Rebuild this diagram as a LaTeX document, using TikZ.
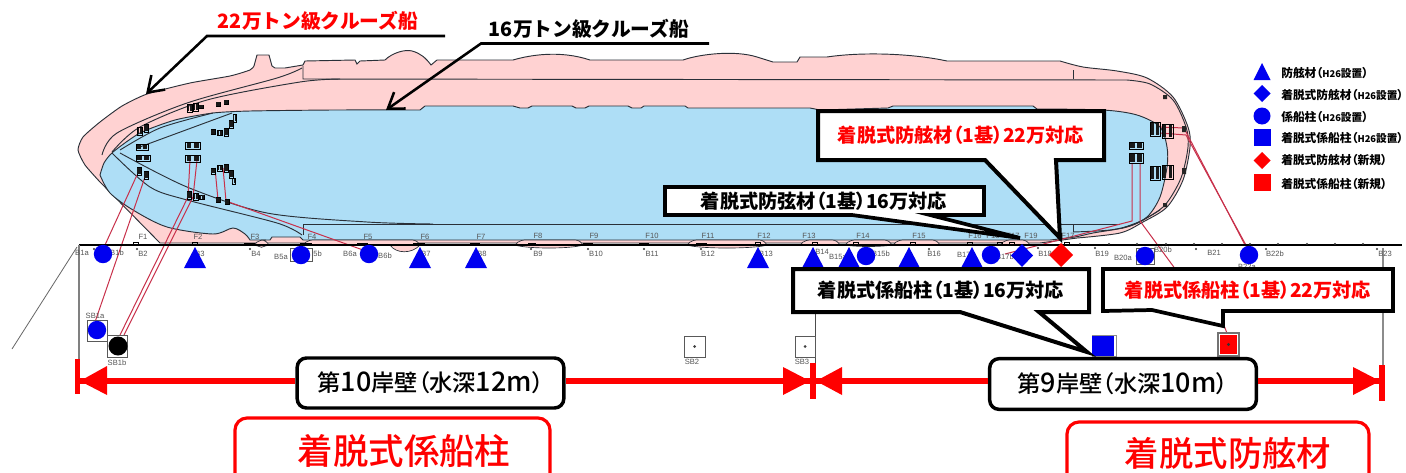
\documentclass[tikz,border=0pt]{standalone}
\usepackage{fontspec}
\usetikzlibrary{arrows.meta,calc}
\setmainfont{Liberation Sans}
\newfontfamily\cjk{Noto Sans CJK JP}
\newfontfamily\cjkp[RawFeature=+palt]{Noto Sans CJK JP}
\newfontfamily\cjkm[RawFeature=+palt]{Noto Sans CJK JP Medium}
\definecolor{hullpink}{HTML}{FFD2D2}
\definecolor{hullblue}{HTML}{AEDEF6}
\definecolor{hullline}{HTML}{2A3038}
\definecolor{moor}{HTML}{C8304A}
\definecolor{mblue}{HTML}{0000F0}
\definecolor{mred}{HTML}{FF0000}
\definecolor{tinygray}{HTML}{555555}
\newcommand{\fs}[1]{\fontsize{#1}{#1}\selectfont}
\newcommand{\hset}{{\fs{7}\cjkm H26}{\fs{8}設置}}
\newcommand{\gearbox}[4]{%
  \draw[black,line width=.5pt] (#1,#2) rectangle ++(#3,#4);
  \fill[black!90] (#1+.1*#3,#2+.1*#4) rectangle ++(.3*#3,.8*#4);
  \fill[black!90] (#1+.6*#3,#2+.1*#4) rectangle ++(.3*#3,.8*#4);
}
\tikzset{
  hl/.style={hullline,line width=.7pt},
  moorline/.style={moor,line width=.75pt},
  callout/.style={draw=black,fill=white,line width=3pt,line join=miter},
  tagtext/.style={font=\cjkp\bfseries\fs{14.4},inner sep=0pt},
  walltext/.style={draw=black,fill=white,line width=2.6pt,rounded corners=7pt,font=\cjkm\fs{17.4},inner sep=0pt},
  redrule/.style={mred,line width=4.6pt},
  redhead/.style={fill=mred,draw=none},
  shiplabel/.style={font=\cjk\bfseries\fs{14.8},inner sep=0pt},
  leaderline/.style={black,line width=1.9pt,line join=miter},
  legendtext/.style={font=\cjkp\bfseries\fs{8.8},anchor=west,inner sep=0pt},
  tiny/.style={font=\fs{5.7},text=tinygray,inner sep=0pt},
  quaybox/.style={draw=black!65,line width=.7pt,fill=white},
  bigtext/.style={font=\cjkm\fs{26.6},text=mred,inner sep=0pt},
}
\begin{document}
\begin{tikzpicture}[x=0.75pt,y=-0.75pt]
\useasboundingbox (0,0) rectangle (1406,472);
\clip (0,0) rectangle (1406,472);
\fill[white] (0,0) rectangle (1406,472);

% ---- pink hull (22万)
\draw[hl,fill=hullpink] plot[smooth,tension=.35] coordinates {
 (100,182)(85,165)(78,150)(83,137)(100,122)(122,106)(147,94)(190,83)(230,76)(250,70)(254,66)}
 -- (257,55) -- (269,55) -- (272,66) -- (275,68)
 -- (285,68) -- (303,65) -- (305,61) -- (355,60) -- (357,64) -- (360,61) -- (385,60)
 .. controls (392,53) and (405,49) .. (412,51) .. controls (420,53) and (426,58) .. (431,65)
 -- (437,60) -- (513,60)
 .. controls (530,55) and (560,50) .. (590,60) -- (683,60)
 .. controls (700,54) and (735,50) .. (757,57) -- (773,62) -- (797,62) -- (800,57) -- (827,57)
 .. controls (860,52) and (910,53) .. (947,61) -- (1060,61)
 -- plot[smooth,tension=.5] coordinates {(1060,61)(1083,67)(1117,71)(1147,78)(1173,97)(1188,127)(1190,147)(1183,180)(1167,207)(1143,222)(1120,233)(1077,238)}
 -- (1040,243) -- (160,243) -- cycle;

% ---- blue hull (16万)
\draw[hl,fill=hullblue] plot[smooth,tension=.4] coordinates {
 (100,175)(104,163)(113,152)(140,133)(175,120)(213,113)(250,111)(333,110)(420,110)}
 -- (425,106) -- (513,106) -- (520,108) -- (528,108) -- (532,106) -- (572,106) -- (576,108)
 -- (585,108) -- (589,106) -- (628,106) -- (632,108) -- (641,108) -- (644,106) -- (685,106)
 -- (688,108) -- (810,108) -- (820,110) -- (888,108) -- (893,106) -- (1033,106) -- (1037,109)
 -- plot[smooth,tension=.5] coordinates {(1037,109)(1103,110)(1137,115)(1160,127)(1167,147)(1167,167)(1160,197)(1147,217)(1127,227)(1093,233)(1075,237)(1050,240)}
 -- (303,240) -- (300,237) -- (272,237) -- (270,240) -- (250,240)
 -- plot[smooth,tension=.5] coordinates {(250,240)(245,234)(233,228)(213,234)(167,227)(133,210)(110,193)(100,175)};

% ---- berth lines on the hull
\draw[hl] (303,66) -- (303,79) -- (1127,80);
\draw[hl] (303,224) -- (303,235);
\draw[hl] (303,224) -- (1120,224);
\draw[hl] plot[smooth,tension=.5] coordinates {(102,155)(117,133)(187,103)(277,78)(302,68)};
\draw[hl] plot[smooth,tension=.5] coordinates {(112,152)(140,127)(207,100)(300,82)(340,79)};
\draw[hl] plot[smooth,tension=.5] coordinates {(120,150)(160,128)(213,113)};
\draw[hl] (137,148) -- (232,113);
\draw[hl] plot[smooth,tension=.5] coordinates {(112,153)(150,187)(187,200)(277,223)(302,235)};
\draw[hl] plot[smooth,tension=.5] coordinates {(120,153)(187,187)(267,213)(367,222)(433,224)};
\draw[hl] plot[smooth,tension=.5] coordinates {(1127,80)(1150,84)(1173,100)(1186,127)(1188,147)(1181,178)(1165,205)(1143,220)(1122,228)};
\draw[hl] (1073,70) -- (1073,79);
\draw[hl] (1073,224) -- (1073,232);
\draw[hl] plot[smooth,tension=.5] coordinates {(1073,232)(1110,230)(1135,224)(1160,210)};

% ---- pink strips along the quay
\foreach \a/\b/\d in {254/269/248,303/420/245,515/583/249,687/767/249,800/840/245,845/892/247,893/940/245,1000/1030/245}{
  \draw[hl,fill=hullpink,line width=.5pt] (\a,245) .. controls (\a+4,240) and (\a+8,240) .. (\a+12,240) -- (\b-8,240) .. controls (\b-4,240) and (\b-2,242) .. (\b,245)
    .. controls (\b-12,\d) and (\a+12,\d) .. (\a,245);
}
\draw[hl,fill=hullpink,line width=.5pt] (390,245) .. controls (396,254) and (412,254) .. (420,245) -- cycle;

% ---- mooring lines
\draw[moorline] (137,175) -- (105,245);
\draw[moorline] (145,177) -- (95,322);
\draw[moorline] (190,160) -- (188,197) -- (120,335);
\draw[moorline] (197,160) -- (193,197) -- (124,335);
\draw[moorline] (215,168) -- (218,200);
\draw[moorline] (223,168) -- (226,201) -- (363,250);
\draw[moorline] (1132,163) -- (1132,221) -- (1005,254);
\draw[moorline] (1140,163) -- (1140,221) -- (1176,270);
\draw[moorline] (1160,127) -- (1184,128) -- (1245,245);
\draw[moorline] (1160,133) -- (1186,135) -- (1247,247);
\draw[moorline] (1222,320) -- (1228,336);

% ---- fittings on the hull
\gearbox{187}{104}{5}{8}\gearbox{193}{103}{5}{8}\gearbox{199}{105}{4}{3}
\gearbox{216}{102}{4}{4}\gearbox{224}{100}{4}{4}
\gearbox{137}{127}{5}{8}\gearbox{144}{124}{4}{8}
\gearbox{136}{144}{12}{6}\gearbox{136}{155}{14}{6}
\gearbox{137}{167}{4}{8}\gearbox{144}{171}{4}{8}
\gearbox{185}{142}{15}{7}\gearbox{185}{155}{15}{7}
\gearbox{187}{191}{4}{8}\gearbox{193}{193}{5}{7}\gearbox{199}{195}{5}{4}
\gearbox{216}{197}{4}{5}\gearbox{225}{199}{4}{5}
\gearbox{211}{129}{4}{5}\gearbox{217}{130}{5}{5}\gearbox{224}{128}{4}{8}\gearbox{229}{120}{4}{8}\gearbox{233}{114}{3}{8}
\gearbox{211}{168}{4}{6}\gearbox{217}{165}{5}{6}\gearbox{224}{164}{4}{8}\gearbox{229}{170}{4}{8}\gearbox{232}{178}{3}{6}
\gearbox{1150}{122}{10}{14}\gearbox{1162}{124}{11}{14}
\gearbox{1150}{166}{10}{14}\gearbox{1162}{165}{11}{14}
\gearbox{1129}{142}{14}{7}\gearbox{1129}{153}{14}{10}
\fill[black!85] (1163,95) rectangle ++(4,4) (1163,203) rectangle ++(4,4) (1182,126) rectangle ++(4,6) (1182,168) rectangle ++(4,6);

% ---- quay and frame lines
\draw[black,line width=.8pt] (79,245) -- (1402,245);
\draw[black!50,line width=1pt] (79,245) -- (79,362);
\draw[black!60,line width=.6pt] (77,247) -- (12,349);
\draw[black!45,line width=1.2pt] (1383,248) -- (1383,366);
\draw[black!70,line width=.7pt] (815,262) -- (815,365);

% ---- quay fittings
\foreach \a/\b in {244/255,300/312,357/368,413/425,470/480,528/536,583/593,639/649,696/707}
  \fill[black] (\a,242.5) rectangle (\b,245.5);
\foreach \a in {133,192,755,812,853,910,967,997,1009,1064}
  \draw[black,line width=.6pt] (\a,242) rectangle ++(5,3);
\foreach \a in {1080,1109,1137,1166,1194,1222,1250,1278,1307,1335,1363}
  \fill[black!80] (\a,244) circle (1.2);
\foreach \a/\b in {94/249,137/249,250/249,531/249,588/249,644/249,701/249,929/249,1038/248,1095/248,1196/249,1266/249,1377/249}
  \fill[black!80] (\a,\b) circle (1.1);

% ---- tiny labels
\foreach \t/\a/\b in {F1/143/237,F2/198/237,F3/255/237,F4/312/237,F5/368/237,F6/425/237,F7/481/237,F8/538/236,F9/594/236,F10/652/236,F11/708/236,F12/764/236,F13/809/236,F14/863/236,F15/919/236,F16/975/236,F18/993/236,F17/1013/236,F19/1031/236,F17/1068/236,
 B1a/82/253,B1b/117/253,B2/143/254,B3/200/254,B4/256/254,B5a/281/257,B5b/315/254,B6a/350/254,B6b/385/256,B7/426/254,B8/482/254,B9/538/254,B10/596/254,B11/652/254,B12/708/254,B13/766/254,B14/822/252,B15a/838/257,B15b/881/254,B16/934/254,B17a/966/255,B17b/1005/257,B18/1045/254,B19/1102/254,B20a/1123/258,B20b/1163/250,B21/1214/253,B22a/1247/267,B22b/1275/254,B23/1385/254,
 SB1a/95/316,SB1b/117/363,SB2/692/362,SB3/802/362}
  \node[tiny] at (\a,\b) {\t};

% ---- boxes and posts
\draw[quaybox] (290,248) rectangle (312,261);
\draw[quaybox] (87,320) rectangle (107,341);
\draw[quaybox] (107,335) rectangle (127,357);
\draw[quaybox] (684,336) rectangle (705,357);
\fill[black!75] (694.5,346.5) circle (1.5);
\draw[quaybox] (795,336) rectangle (815,357);
\fill[black!75] (805,346.5) circle (1.5);
\draw[quaybox] (1136,248) rectangle (1154,264);

% ---- markers
\foreach \a in {195,420,476,758,813,849,909,972}
  \fill[mblue] (\a,247) -- (\a+11,268) -- (\a-11,268) -- cycle;
\foreach \a/\b in {103/254,301/255,369/254,866/256,991/255,1249/255,1145/256,97/330}
  \fill[mblue] (\a,\b) circle (9.2);
\fill[black] (118,346) circle (9.5);
\fill[mblue] (1022,244) -- (1033,255.5) -- (1022,267) -- (1011,255.5) -- cycle;
\fill[mred] (1061,243) -- (1073,255) -- (1061,267) -- (1049,255) -- cycle;
\draw[quaybox,draw=black!45] (1092,335.5) rectangle (1116,356.5);
\fill[mblue] (1092,336) rectangle (1114,356);
\draw[quaybox,draw=black!55,line width=1pt] (1218,333) rectangle (1239,356);
\fill[mred] (1220,335) rectangle (1237,354);
\fill[black!80] (1228.5,344.5) circle (1.6);

% ---- ship labels and leaders
\node[shiplabel,text=mred] (ship22) at (318,21) {22万トン級クルーズ船};
\node[shiplabel] (ship16) at (589,29) {16万トン級クルーズ船};
\coordinate (ship22a) at (445,36);
\coordinate (ship22b) at (207,36);
\coordinate (ship22c) at (146,94);
\coordinate (ship16a) at (709,43.5);
\coordinate (ship16b) at (481,43.5);
\coordinate (ship16c) at (386,110);
\draw[leaderline,-{Straight Barb[length=11pt,width=15pt,line width=1.9pt]}] (ship22a) -- (ship22b) -- (ship22c);
\draw[leaderline,-{Straight Barb[length=11pt,width=15pt,line width=1.9pt]}] (ship16a) -- (ship16b) -- (ship16c);

% ---- callouts
\draw[callout] (818,111) -- (1104,111) -- (1104,160) -- (1056,160) -- (1060,238) -- (985,160) -- (818,160) -- cycle;
\node[tagtext,text=mred] (tagA) at (961,135) {着脱式防舷材（1基）22万対応};

\draw[callout,line width=2.8pt] (665,187) -- (984,187) -- (984,215) -- (930,215) -- (1020,238) -- (852,215) -- (665,215) -- cycle;
\node[tagtext] (tagB) at (824,201) {着脱式防弦材（1基）16万対応};

\draw[callout] (793,269) -- (1089,269) -- (1089,312) -- (1039,312) -- (1087,352) -- (960,312) -- (793,312) -- cycle;
\node[tagtext] (tagC) at (941,290) {着脱式係船柱（1基）16万対応};

\draw[callout,line width=2.8pt] (1103,269) -- (1393,269) -- (1393,311) -- (1223,311) -- (1223,326) -- (1152,310) -- (1103,311) -- cycle;
\node[tagtext,text=mred] (tagD) at (1248,290) {着脱式係船柱（1基）22万対応};

% ---- wall dimension lines
\node[walltext,minimum width=200pt,minimum height=37.5pt] (w10) at (430.5,383) {第{\fs{20.2}10}岸壁（水深{\fs{20.2}12m}）};
\node[walltext,minimum width=200pt,minimum height=38pt] (w9) at (1123,384) {第{\fs{20.2}9}岸壁（水深{\fs{20.2}10m}）};
\coordinate (e10l) at (80,381);
\coordinate (e10r) at (810,381);
\coordinate (e9l) at (816,381);
\coordinate (e9r) at (1380,381);
\draw[redrule] (w10.west |- e10l) -- (e10l);
\draw[redrule] (w10.east |- e10r) -- (e10r);
\draw[redrule] (w9.west |- e9l) -- (e9l);
\draw[redrule] (w9.east |- e9r) -- (e9r);
\fill[redhead] (e10l) -- (107,366) -- (107,395) -- cycle;
\fill[redhead] (e10r) -- (783,367) -- (783,395) -- cycle;
\fill[redhead] (e9l) -- (842,367) -- (842,395) -- cycle;
\fill[redhead] (e9r) -- (1353,367) -- (1353,395) -- cycle;
\fill[mred] (75,359) rectangle (80,394);
\fill[mred] (810,363) rectangle (816,399);
\fill[mred] (1379,365) rectangle (1385,401);

% ---- bottom boxes
\draw[mred,line width=2.4pt,rounded corners=9pt] (235,418) -- (550,418) -- (550,490) -- (235,490) -- cycle;
\node[bigtext] (bigA) at (404,451) {着脱式係船柱};
\draw[mred,line width=2.4pt,rounded corners=9pt] (1067,422) -- (1369,422) -- (1369,490) -- (1067,490) -- cycle;
\node[bigtext,font=\cjkm\fs{25.8}] (bigB) at (1228,453) {着脱式防舷材};

% ---- legend
\fill[mblue] (1262,63) -- (1270.5,80) -- (1253.5,80) -- cycle;
\fill[mblue] (1262,85) -- (1270.5,93.5) -- (1262,102) -- (1253.5,93.5) -- cycle;
\fill[mblue] (1262,116) circle (8.5);
\fill[mblue] (1253.5,129) rectangle (1270.5,146);
\fill[mred] (1262,152) -- (1270.5,160.5) -- (1262,169) -- (1253.5,160.5) -- cycle;
\fill[mred] (1253.5,174) rectangle (1270.5,191);
\node[legendtext] (leg1) at (1281,73) {防舷材（\hset）};
\node[legendtext] (leg2) at (1281,95.5) {着脱式防舷材（\hset）};
\node[legendtext] (leg3) at (1281,117.5) {係船柱（\hset）};
\node[legendtext] (leg4) at (1281,138) {着脱式係船柱（\hset）};
\node[legendtext] (leg5) at (1281,160.5) {着脱式防舷材（新規）};
\node[legendtext] (leg6) at (1281,184.5) {着脱式係船柱（新規）};
\end{tikzpicture}
\end{document}
